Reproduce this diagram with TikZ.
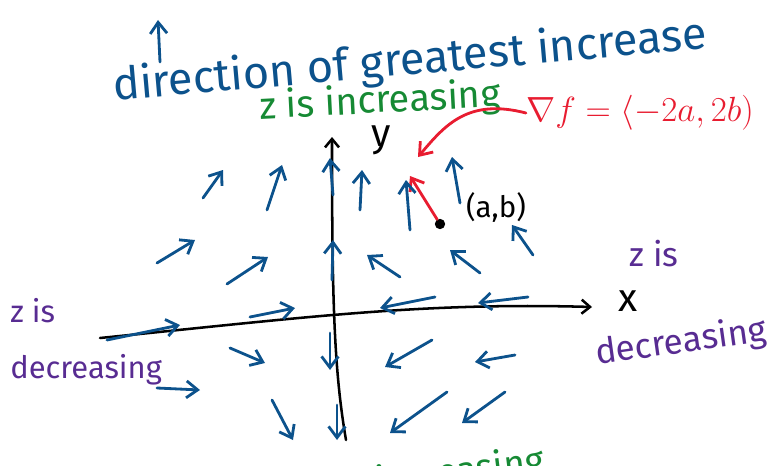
\documentclass[tikz,border=0pt]{standalone}
\usepackage{fontspec}
\setmainfont{Fira Sans}
\usetikzlibrary{arrows.meta}
\definecolor{ink}{RGB}{12,82,140}
\definecolor{incr}{RGB}{22,138,52}
\definecolor{decr}{RGB}{88,44,146}
\definecolor{grad}{RGB}{232,28,48}

\begin{document}
\begin{tikzpicture}[
      x=0.025cm, y=-0.025cm,
      vec/.style={-{Straight Barb[length=8pt,width=12pt]}, line width=2pt, draw=ink, line cap=round},
      axis/.style={-{Straight Barb[length=6pt,width=10pt]}, line width=1.8pt, draw=black, line cap=round},
      gradarr/.style={-{Straight Barb[length=8pt,width=12pt]}, line width=2pt, draw=grad, line cap=round},
      lbl/.style={inner sep=0pt, font=\fontsize{#1}{#1}\selectfont}
    ]
    \useasboundingbox (0,0) rectangle (776,466);
    \node[lbl=32, text=ink, rotate=5] (title) at (410,62) {direction of greatest increase};
    \draw[vec] (160,62) -- (158,20);
    \node[lbl=27, text=incr, rotate=3] (zinc) at (380,102) {z is increasing};
    \node[lbl=28, text=grad] (gradf) at (640,113) {$\nabla f=\langle -2a,2b)$};
    \draw[axis] (100,338) .. controls (300,318) and (420,302) .. (592,307);
    \draw[axis] (346,440) .. controls (334,370) and (332,300) .. (332,137);
    \node[lbl=28] (ylbl) at (381,140) {y};
    \node[lbl=28] (xlbl) at (628,301) {x};
    \node[circle, fill=black, inner sep=2.6pt] (ab) at (440,224) {};
    \node[lbl=21] (ablbl) at (496,207) {(a,b)};
    \draw[gradarr] (ab) .. controls (425,200) .. (410,176);
    \draw[gradarr] (gradf.west) .. controls (468,98) and (445,125) .. (418,157);
    \foreach \xa/\ya/\xb/\yb in {203/198/223/170, 267/210/282/165, 333/195/330/158,
        360/210/362/170, 410/230/406/180, 460/203/452/157,
        157/263/195/240, 227/284/268/257, 332/280/333/240,
        400/277/367/255, 480/273/450/250, 533/255/512/225,
        107/340/180/325, 250/317/295/308, 435/297/380/308, 528/297/478/303,
        230/348/265/363, 330/333/330/370, 432/340/385/367, 515/355/475/362,
        157/388/200/390, 272/400/293/440, 337/405/337/440,
        447/392/390/433, 505/392/462/423}
      \draw[vec] (\xa,\ya) -- (\xb,\yb);
    \node[lbl=22, text=decr, anchor=north west, align=left] (zdecl) at (10,298) {z is\\[18pt]decreasing};
    \node[lbl=24, text=decr] (zisr) at (654,254) {z is};
    \node[lbl=25, text=decr, rotate=8] (zdecr) at (681,343) {decreasing};
    \node[lbl=26, text=incr, anchor=north east, rotate=7] (zincb) at (542,444) {increasing};
\end{tikzpicture}
\end{document}
